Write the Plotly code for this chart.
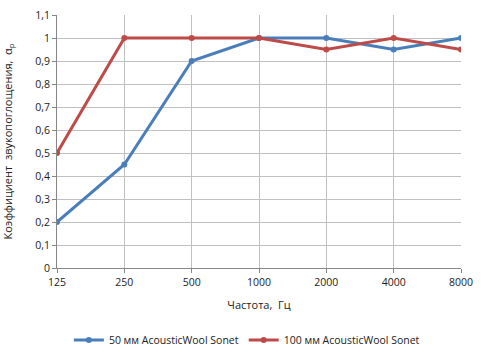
import plotly.graph_objects as go

freqs = ["125", "250", "500", "1000", "2000", "4000", "8000"]
s50 = [0.2, 0.45, 0.9, 1.0, 1.0, 0.95, 1.0]
s100 = [0.5, 1.0, 1.0, 1.0, 0.95, 1.0, 0.95]
yticks = [0, 0.1, 0.2, 0.3, 0.4, 0.5, 0.6, 0.7, 0.8, 0.9, 1.0, 1.1]
ylabels = ["0", "0,1", "0,2", "0,3", "0,4", "0,5", "0,6", "0,7", "0,8", "0,9", "1", "1,1"]

x = list(range(len(freqs)))
fig = go.Figure()
fig.add_trace(go.Scatter(x=x, y=s50, mode="lines+markers", name="50 мм AcousticWool Sonet",
                         line=dict(color="#4a7ebb", width=3), marker=dict(size=6, color="#4a7ebb")))
fig.add_trace(go.Scatter(x=x, y=s100, mode="lines+markers", name="100 мм AcousticWool Sonet",
                         line=dict(color="#be4b48", width=3), marker=dict(size=6, color="#be4b48")))

font = dict(family="Open Sans, Liberation Sans, sans-serif", size=10.5, color="#222")
fig.update_layout(
    width=487, height=356,
    margin=dict(l=57, r=26, t=15, b=88, autoexpand=False),
    paper_bgcolor="white", plot_bgcolor="white",
    font=font,
    showlegend=True,
    legend=dict(orientation="h", x=0.47, xanchor="center", y=-0.285, yanchor="middle",
                font=dict(size=10.5), tracegroupgap=0),
)
fig.update_xaxes(range=[0, 6], tickmode="array", tickvals=x, ticktext=freqs,
                 showgrid=True, gridcolor="#c0c0c0", gridwidth=1,
                 showline=True, linecolor="#868686", linewidth=1,
                 ticks="outside", ticklen=4, tickcolor="#868686", automargin=False,
                 title=dict(text="Частота,  Гц", font=dict(size=11), standoff=13),
                 zeroline=False)
fig.update_yaxes(range=[0, 1.1], tickmode="array", tickvals=yticks, ticktext=ylabels,
                 showgrid=True, gridcolor="#c0c0c0", gridwidth=1,
                 showline=True, linecolor="#868686", linewidth=1,
                 ticks="outside", ticklen=4, tickcolor="#868686", automargin=False,
                 title=dict(text="Коэффициент  звукопоглощения,  α<sub>p</sub>", font=dict(size=11), standoff=20),
                 zeroline=False)
fig.write_html("out.html", config={"displayModeBar": False},
               post_script="document.body.style.margin='0';")
